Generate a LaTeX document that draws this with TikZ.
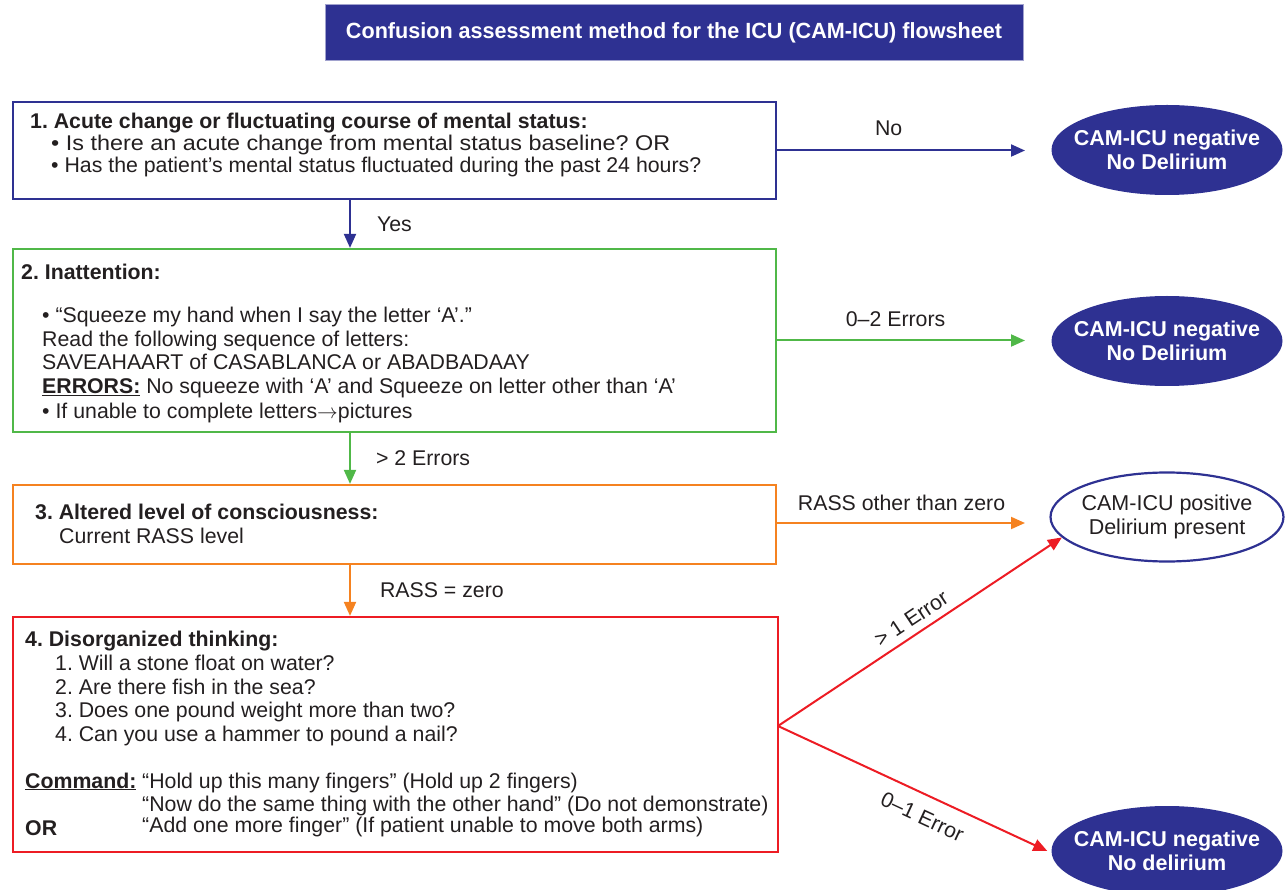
\documentclass[tikz,border=0pt]{standalone}
\usepackage{fontspec}
\setmainfont{Liberation Sans}
\usetikzlibrary{arrows.meta,shapes.geometric,calc}
\definecolor{cblue}{HTML}{2E3192}
\definecolor{cgreen}{HTML}{50B848}
\definecolor{corange}{HTML}{F58220}
\definecolor{cred}{HTML}{ED1C24}
\definecolor{ctext}{HTML}{231F20}
\frenchspacing
\tikzset{
  boxn/.style={draw, line width=2.2pt, rectangle, inner sep=0pt},
  ln/.style={anchor=base west, inner sep=0pt, text=ctext, font=\fontsize{21.3}{24}\selectfont},
  bln/.style={ln, font=\fontsize{21.3}{24}\selectfont\bfseries},
  lab/.style={inner sep=0pt, text=ctext, font=\fontsize{21.3}{24}\selectfont},
  arr/.style={line width=2pt, -{Triangle[length=14pt,width=12pt]}},
  negell/.style={ellipse, fill=cblue, text=white, inner xsep=-13pt, inner ysep=0pt, minimum width=231pt, minimum height=90pt, align=center, font=\fontsize{21.5}{23.5}\selectfont\bfseries},
  posell/.style={ellipse, draw=cblue, line width=2.2pt, fill=white, text=ctext, inner xsep=-5pt, inner ysep=0pt, minimum width=233pt, minimum height=89pt, align=center, font=\fontsize{21.5}{23.5}\selectfont}
}
\begin{document}
\begin{tikzpicture}[x=1pt,y=-1pt]
\useasboundingbox (0,0) rectangle (1285,890);
\clip (0,0) rectangle (1285,890);
% title
\node[fill=cblue, draw=cblue!45, line width=1pt, minimum width=698pt, minimum height=56pt, inner sep=0pt, text=white, font=\fontsize{22}{26}\selectfont\bfseries] (title) at (674,33) {\resizebox{656pt}{\height}{Confusion assessment method for the ICU (CAM-ICU) flowsheet}};
% boxes
\node[boxn, draw=cblue, minimum width=763pt, minimum height=97pt] (b1) at (394.5,150.5) {};
\node[boxn, draw=cgreen, minimum width=763pt, minimum height=183pt] (b2) at (394.5,340.5) {};
\node[boxn, draw=corange, minimum width=763pt, minimum height=79pt] (b3) at (394.5,524.5) {};
\node[boxn, draw=cred, minimum width=765pt, minimum height=235pt] (b4) at (395.5,734.5) {};
% box 1 text
\node[bln] (t11) at (30,128.5) {1. Acute change or fluctuating course of mental status:};
\node[ln] (t12) at (51,150.5) {\resizebox{619pt}{\height}{• Is there an acute change from mental status baseline? OR}};
\node[ln] (t13) at (51,173) {• Has the patient’s mental status fluctuated during the past 24 hours?};
% box 2 text
\node[bln] (t21) at (21,280) {2. Inattention:};
\node[ln] (t22) at (42,322.7) {• “Squeeze my hand when I say the letter ‘A’.”};
\node[ln] (t23) at (42,346.5) {Read the following sequence of letters:};
\node[ln] (t24) at (42,370) {SAVEAHAART of CASABLANCA or ABADBADAAY};
\node[ln] (t25) at (42,394) {\textbf{\underline{ERRORS:}} No squeeze with ‘A’ and Squeeze on letter other than ‘A’};
\node[ln] (t26) at (42,418) {• If unable to complete letters$\rightarrow$pictures};
% box 3 text
\node[bln] (t31) at (35,519.5) {3. Altered level of consciousness:};
\node[ln] (t32) at (59,543.5) {Current RASS level};
% box 4 text
\node[bln] (t41) at (25,646.5) {4. Disorganized thinking:};
\node[ln] (t42) at (55,670) {1. Will a stone float on water?};
\node[ln] (t43) at (55,694) {2. Are there fish in the sea?};
\node[ln] (t44) at (55,717.5) {3. Does one pound weight more than two?};
\node[ln] (t45) at (55,741) {4. Can you use a hammer to pound a nail?};
\node[bln] (t46) at (25,788) {\underline{Command:}};
\node[ln] (t47) at (142,788) {“Hold up this many fingers” (Hold up 2 fingers)};
\node[ln] (t48) at (142,811) {“Now do the same thing with the other hand” (Do not demonstrate)};
\node[ln] (t49) at (142,832) {“Add one more finger” (If patient unable to move both arms)};
\node[bln] (t4or) at (25,835.5) {OR};
% outcome ellipses
\node[negell] (neg1) at (1167,150) {CAM-ICU negative\\No Delirium};
\node[negell] (neg2) at (1167,341) {CAM-ICU negative\\No Delirium};
\node[posell] (pos) at (1167,517) {CAM-ICU positive\\Delirium present};
\node[negell] (neg3) at (1167,851) {CAM-ICU negative\\No delirium};
% helper coordinates
\coordinate (ax) at (350,0);
\coordinate (tipx) at (1025,0);
\coordinate (split) at (778,726);
% vertical arrows
\draw[arr, cblue] (b1.south -| ax) -- node[lab, pos=.5, anchor=base west, xshift=26pt, yshift=-7.5pt] {Yes} (b2.north -| ax);
\draw[arr, cgreen] (b2.south -| ax) -- node[lab, pos=.5, anchor=base west, xshift=25pt, yshift=-6.5pt] {> 2 Errors} (b3.north -| ax);
\draw[arr, corange] (b3.south -| ax) -- node[lab, pos=.5, anchor=base west, xshift=29pt, yshift=-6.5pt] {RASS = zero} (b4.north -| ax);
% horizontal arrows
\draw[arr, cblue] (b1.east) -- node[lab, pos=.45, anchor=base, yshift=15pt] {No} (b1.east -| tipx);
\draw[arr, cgreen] (b2.east) -- node[lab, pos=.478, anchor=base, yshift=14pt] {0–2 Errors} (b2.east -| tipx);
\draw[arr, corange] ([yshift=1.5pt]b3.east) -- node[lab, pos=.502, anchor=base, yshift=13pt] {RASS other than zero} ([yshift=1.5pt]b3.east -| tipx);
% red split arrows
\draw[arr, cred] (split) -- node[lab, sloped, pos=.5, anchor=south, inner sep=7pt] {> 1 Error} (pos.191);
\draw[arr, cred] (split) -- node[lab, sloped, pos=.57, anchor=north, inner sep=13pt] {0–1 Error} ([xshift=-4pt]neg3.west);
\end{tikzpicture}
\end{document}
